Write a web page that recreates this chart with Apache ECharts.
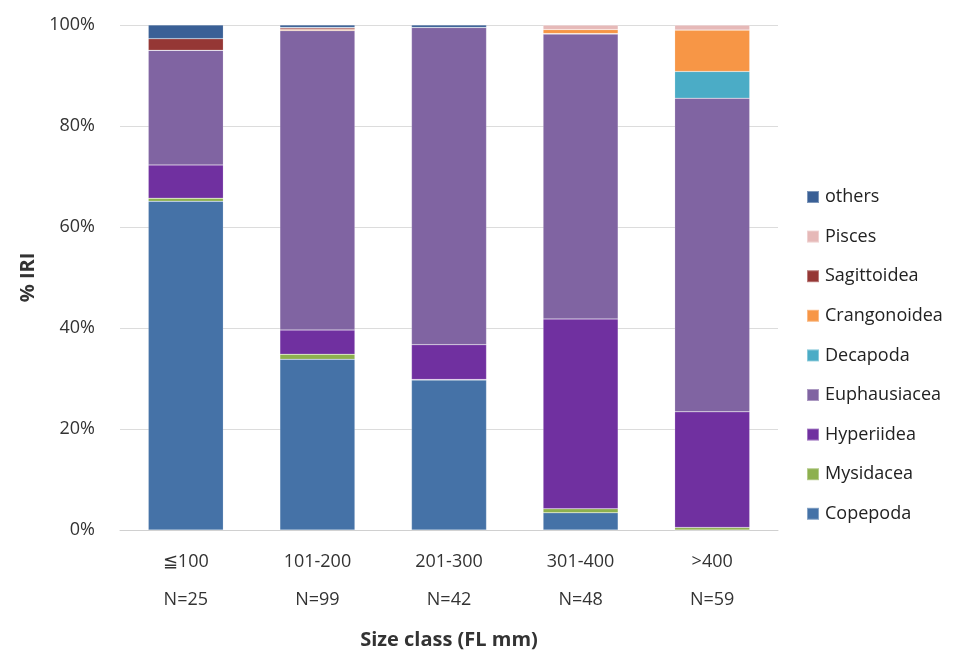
<!DOCTYPE html>
<html><head><meta charset="utf-8">
<script src="https://cdn.jsdelivr.net/npm/echarts@6/dist/echarts.min.js"></script>
<style>html,body{margin:0;padding:0;background:#fff}#c{width:962px;height:657px}</style>
</head><body><div id="c"></div>
<script>
const categories = ['≦100', '101-200', '201-300', '301-400', '>400'];
const sampleN = ['N=25', 'N=99', 'N=42', 'N=48', 'N=59'];
const seriesNames = ['Copepoda', 'Mysidacea', 'Hyperiidea', 'Euphausiacea', 'Decapoda', 'Crangonoidea', 'Sagittoidea', 'Pisces', 'others'];
const Copepoda     = [65.1, 33.8, 29.7, 3.4, 0.0];
const Mysidacea    = [0.6, 1.0, 0.1, 0.8, 0.5];
const Hyperiidea   = [6.6, 4.8, 6.9, 37.6, 22.9];
const Euphausiacea = [22.7, 59.3, 62.8, 56.4, 62.1];
const Decapoda     = [0.0, 0.0, 0.0, 0.1, 5.3];
const Crangonoidea = [0.0, 0.2, 0.0, 0.8, 8.2];
const Sagittoidea  = [2.3, 0.3, 0.0, 0.0, 0.0];
const Pisces       = [0.0, 0.1, 0.0, 0.9, 1.0];
const others       = [2.7, 0.5, 0.5, 0.0, 0.0];
const yTicks = [0, 20, 40, 60, 80, 100];
const colors = {
  Copepoda: '#4572A7', Mysidacea: '#8DB04E', Hyperiidea: '#7030A0', Euphausiacea: '#8064A2',
  Decapoda: '#4BACC6', Crangonoidea: '#F79646', Sagittoidea: '#953735', Pisces: '#E6B9B8', others: '#3A6096'
};
const values = {Copepoda, Mysidacea, Hyperiidea, Euphausiacea, Decapoda, Crangonoidea, Sagittoidea, Pisces, others};
const font = '"Open Sans", Lato, sans-serif';
const chart = echarts.init(document.getElementById('c'));
chart.setOption({
  animation: false,
  grid: {left: 120, right: 184, top: 25, bottom: 127},
  legend: {
    orient: 'vertical', left: 801, top: 183, itemGap: 21.6, itemWidth: 12, itemHeight: 12,
    icon: 'rect', data: seriesNames.slice().reverse(),
    textStyle: {fontFamily: font, fontSize: 18, color: '#222', padding: [0, 0, 0, 1]}
  },
  xAxis: {
    type: 'category', data: categories.map((c, i) => c + '\n' + sampleN[i]),
    axisTick: {show: false},
    axisLine: {lineStyle: {color: '#d0d0d0'}},
    axisLabel: {fontFamily: font, fontSize: 18, color: '#333', lineHeight: 38, margin: 13},
    name: 'Size class (FL mm)', nameLocation: 'middle', nameGap: 100,
    nameTextStyle: {fontFamily: font, fontSize: 20, fontWeight: 'bold', color: '#333'}
  },
  yAxis: {
    type: 'value', min: 0, max: 100, interval: 20,
    axisLine: {show: false}, axisTick: {show: false},
    splitLine: {lineStyle: {color: '#dcdcdc'}},
    axisLabel: {fontFamily: font, fontSize: 18, color: '#333', margin: 25, formatter: v => yTicks.includes(v) ? v + '%' : ''},
    name: '% IRI', nameLocation: 'middle', nameGap: 80, nameRotate: 90,
    nameTextStyle: {fontFamily: font, fontSize: 20, fontWeight: 'bold', color: '#333'}
  },
  series: seriesNames.map(n => ({
    name: n, type: 'bar', stack: 'all', barWidth: 75,
    data: values[n],
    itemStyle: {color: colors[n], borderColor: 'rgba(255,255,255,0.35)', borderWidth: 0.5}
  }))
});
</script></body></html>
